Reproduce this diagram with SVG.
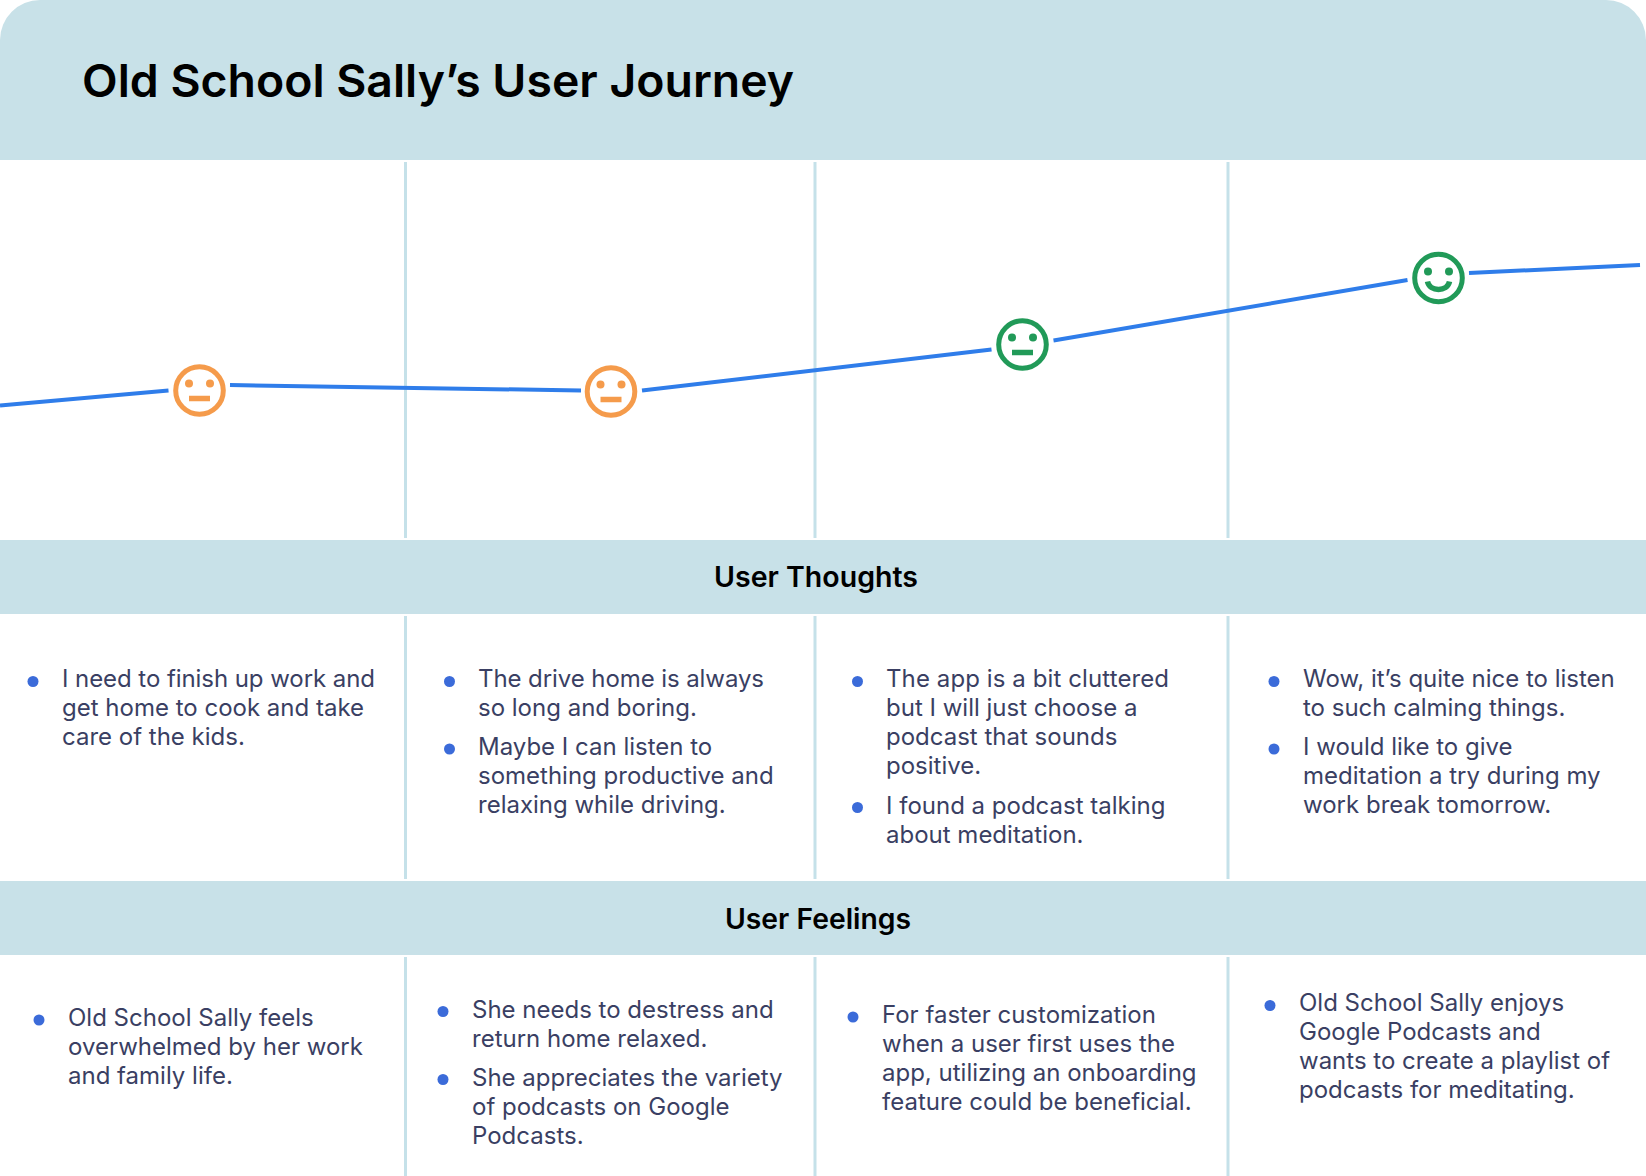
<svg xmlns="http://www.w3.org/2000/svg" width="1646" height="1176" viewBox="0 0 1646 1176">
<style>
.band{fill:#c8e1e8}
.div{stroke:#c5e1e9;stroke-width:3;fill:none}
.title{font-family:"Inter","Liberation Sans",sans-serif;font-weight:600;font-size:45px;fill:#000}
.head{font-family:"Inter","Liberation Sans",sans-serif;font-weight:600;font-size:28px;fill:#000;text-anchor:middle}
.t{font-family:"Inter","Liberation Sans",sans-serif;font-size:24px;fill:#3a3f63}
.b{fill:#3b6bd9}
.j{stroke:#2f7dea;stroke-width:4;fill:none}
.o{color:#f59b4b}
.g{color:#219a58}
.face{fill:none;stroke:currentColor;stroke-width:5}
.e{fill:currentColor}
.m{fill:none;stroke:currentColor;stroke-width:5.500}
</style>
<defs>
<g id="neutral"><circle class="face" r="23.800"/><circle class="e" cx="-10.500" cy="-7" r="4"/><circle class="e" cx="10.500" cy="-7" r="4"/><path class="m" d="M-10.500 8H10.500"/></g>
<g id="happy"><circle class="face" r="23.800"/><circle class="e" cx="-10.500" cy="-6.500" r="4"/><circle class="e" cx="10.500" cy="-6.500" r="4"/><path class="m" d="M-11 3.500C-9 14 9 14 11 3.500"/></g>
</defs>
<rect width="1646" height="1176" fill="#fff"/>
<g id="header"><path class="band" d="M0 160V40A40 40 0 0 1 40 0H1606A40 40 0 0 1 1646 40V160Z"/><text class="title" x="82" y="96.500" textLength="712" lengthAdjust="spacingAndGlyphs">Old School Sally’s User Journey</text></g>
<g id="dividers">
<path class="div" d="M405.500 162V538M405.500 616V879M405.500 957V1176M815 162V538M815 616V879M815 957V1176M1228 162V538M1228 616V879M1228 957V1176"/>
</g>
<g id="connectors">
<path class="j" d="M0 405.500L168.500 390.500"/><path class="j" d="M230 385L581 390.500"/><path class="j" d="M642 390.500L991.500 349.500"/><path class="j" d="M1053.500 340.500L1407.500 280"/><path class="j" d="M1469 273L1640 265"/>
</g>
<g id="face-1" class="o"><use href="#neutral" transform="translate(199.500 390.500)"/></g>
<g id="face-2" class="o"><use href="#neutral" transform="translate(611 391.500)"/></g>
<g id="face-3" class="g"><use href="#neutral" transform="translate(1022.500 344.500)"/></g>
<g id="face-4" class="g"><use href="#happy" transform="translate(1438.500 278)"/></g>
<g id="thoughts-band"><rect class="band" y="540" width="1646" height="74"/><text class="head" x="816" y="587" textLength="204" lengthAdjust="spacingAndGlyphs">User Thoughts</text></g>
<g id="thought-1"><circle class="b" cx="33" cy="681.500" r="5.500"/><text class="t" x="62" y="687" textLength="313">I need to finish up work and</text><text class="t" x="62" y="716">get home to cook and take</text><text class="t" x="62" y="745">care of the kids.</text></g>
<g id="thought-2"><circle class="b" cx="449.500" cy="681.500" r="5.500"/><text class="t" x="478" y="687" textLength="286">The drive home is always</text><text class="t" x="478" y="716">so long and boring.</text><circle class="b" cx="449.500" cy="749" r="5.500"/><text class="t" x="478" y="755">Maybe I can listen to</text><text class="t" x="478" y="784">something productive and</text><text class="t" x="478" y="813">relaxing while driving.</text></g>
<g id="thought-3"><circle class="b" cx="857.500" cy="681.500" r="5.500"/><text class="t" x="886" y="687" textLength="283">The app is a bit cluttered</text><text class="t" x="886" y="716">but I will just choose a</text><text class="t" x="886" y="745">podcast that sounds</text><text class="t" x="886" y="774">positive.</text><circle class="b" cx="857.500" cy="807.500" r="5.500"/><text class="t" x="886" y="813.500">I found a podcast talking</text><text class="t" x="886" y="842.500">about meditation.</text></g>
<g id="thought-4"><circle class="b" cx="1274" cy="681.500" r="5.500"/><text class="t" x="1303" y="687">Wow, it’s quite nice to listen</text><text class="t" x="1303" y="716">to such calming things.</text><circle class="b" cx="1274" cy="749" r="5.500"/><text class="t" x="1303" y="755">I would like to give</text><text class="t" x="1303" y="784">meditation a try during my</text><text class="t" x="1303" y="813">work break tomorrow.</text></g>
<g id="feelings-band"><rect class="band" y="881" width="1646" height="74"/><text class="head" x="818" y="928.500" textLength="186" lengthAdjust="spacingAndGlyphs">User Feelings</text></g>
<g id="feeling-1"><circle class="b" cx="39" cy="1020" r="5.500"/><text class="t" x="68" y="1026">Old School Sally feels</text><text class="t" x="68" y="1055">overwhelmed by her work</text><text class="t" x="68" y="1084">and family life.</text></g>
<g id="feeling-2"><circle class="b" cx="443" cy="1011.500" r="5.500"/><text class="t" x="472" y="1017.500">She needs to destress and</text><text class="t" x="472" y="1046.500">return home relaxed.</text><circle class="b" cx="443" cy="1079.500" r="5.500"/><text class="t" x="472" y="1085.500">She appreciates the variety</text><text class="t" x="472" y="1114.500">of podcasts on Google</text><text class="t" x="472" y="1143.500">Podcasts.</text></g>
<g id="feeling-3"><circle class="b" cx="853" cy="1017" r="5.500"/><text class="t" x="882" y="1023">For faster customization</text><text class="t" x="882" y="1052">when a user first uses the</text><text class="t" x="882" y="1081">app, utilizing an onboarding</text><text class="t" x="882" y="1110">feature could be beneficial.</text></g>
<g id="feeling-4"><circle class="b" cx="1270" cy="1005.500" r="5.500"/><text class="t" x="1299" y="1011">Old School Sally enjoys</text><text class="t" x="1299" y="1040">Google Podcasts and</text><text class="t" x="1299" y="1069">wants to create a playlist of</text><text class="t" x="1299" y="1098">podcasts for meditating.</text></g>
</svg>
